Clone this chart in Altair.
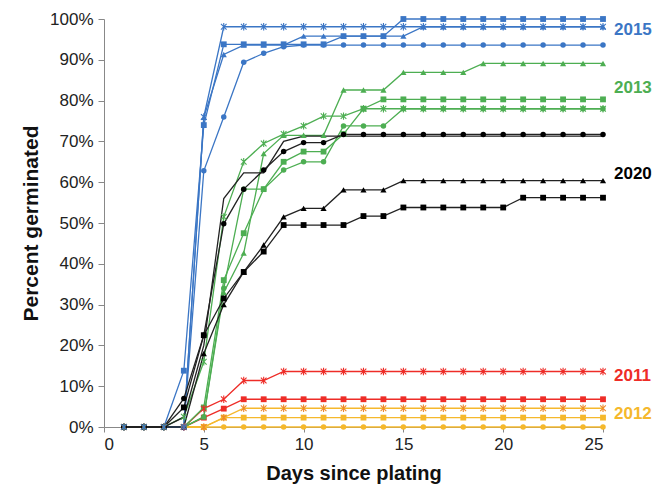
import altair as alt
import pandas as pd

days = list(range(1, 26))

# 2015 (blue)
b_cross  = [0, 0, 0, 0, 76.0] + [98.1] * 20
b_square = [0, 0, 0, 13.8, 74.0, 93.8, 93.8, 93.8, 93.8, 93.8, 93.8, 95.8, 95.8, 95.8] + [100.0] * 11
b_tri    = [0, 0, 0, 0, 75.9, 91.3, 93.6, 93.6, 93.6, 95.8, 95.8, 95.8, 95.8, 95.8, 95.8] + [98.1] * 10
b_circle = [0, 0, 0, 0, 62.8, 76.0, 89.4, 91.6, 93.2] + [93.6] * 16

# 2013 (green)
g_tri    = [0, 0, 0, 0, 2.5, 33.0, 42.6, 67.0, 71.5, 71.5, 71.5, 82.6, 82.6, 82.6,
            86.9, 86.9, 86.9, 86.9] + [89.1] * 7
g_cross  = [0, 0, 0, 2.5, 16.0, 51.5, 65.0, 69.5, 71.8, 73.8, 76.2, 76.2] + [78.0] * 13
g_square = [0, 0, 0, 0, 4.8, 36.0, 47.5, 58.3, 65.0, 67.5, 67.5, 71.8, 78.0] + [80.3] * 12
g_circle = [0, 0, 0, 0, 2.5, 34.0, 58.3, 58.3, 63.0, 65.0, 65.0, 73.8, 73.8, 73.8] + [78.0] * 11

# 2020 (black)
k_circle = [0, 0, 0, 7.0, 22.5, 49.8, 58.3, 63.0, 67.5, 69.7, 69.7] + [71.7] * 14
k_plain  = [0, 0, 0, 2.4, 20.0, 56.0, 62.3, 62.3, 70.0] + [71.3] * 16
k_tri    = [0, 0, 0, 0, 18.0, 30.0, 38.0, 44.6, 51.5, 53.6, 53.6, 58.1, 58.1, 58.1] + [60.4] * 11
k_square = [0, 0, 0, 4.8, 22.5, 31.5, 38.0, 43.0, 49.5, 49.5, 49.5, 49.5, 51.7, 51.7,
            53.8, 53.8, 53.8, 53.8, 53.8, 53.8] + [56.2] * 5

# 2011 (red)
r_cross  = [0, 0, 0, 0, 4.5, 6.8, 11.4, 11.4] + [13.6] * 17
r_square = [0, 0, 0, 0, 2.3, 4.5] + [6.8] * 19

# 2012 (yellow)
y_cross  = [0, 0, 0, 0, 0, 2.3] + [4.6] * 19
y_square = [0, 0, 0, 0, 0] + [2.3] * 20
y_circle = [0] * 25

years = ["2015", "2013", "2020", "2011", "2012"]
year_colors = ["#3B76C5", "#4DAE52", "#000000", "#EE2C27", "#F5B82C"]
label_y = [97.3, 83.1, 62.0, 12.5, 3.2]

series = [
    ("y_circle", "2012", "circle", y_circle, "#F5B82C", "#F5B82C"),
    ("y_square", "2012", "square", y_square, "#F5B82C", "#F5B82C"),
    ("y_cross", "2012", "cross", y_cross, "#F5B82C", "#EE8A2A"),
    ("r_square", "2011", "square", r_square, "#EE2C27", "#EE2C27"),
    ("r_cross", "2011", "cross", r_cross, "#EE2C27", "#EE2C27"),
    ("g_circle", "2013", "circle", g_circle, "#4DAE52", "#4DAE52"),
    ("g_square", "2013", "square", g_square, "#4DAE52", "#4DAE52"),
    ("g_cross", "2013", "cross", g_cross, "#4DAE52", "#4DAE52"),
    ("g_tri", "2013", "triangle", g_tri, "#4DAE52", "#4DAE52"),
    ("b_circle", "2015", "circle", b_circle, "#3B76C5", "#3B76C5"),
    ("b_tri", "2015", "triangle", b_tri, "#3B76C5", "#3B76C5"),
    ("b_square", "2015", "square", b_square, "#3B76C5", "#3B76C5"),
    ("b_cross", "2015", "cross", b_cross, "#3B76C5", "#3B76C5"),
    ("k_plain", "2020", "none", k_plain, "#222222", "#000000"),
    ("k_circle", "2020", "circle", k_circle, "#222222", "#000000"),
    ("k_square", "2020", "square", k_square, "#222222", "#000000"),
    ("k_tri", "2020", "triangle", k_tri, "#222222", "#000000"),
]

rows = []
for order, (sid, year, shape, vals, lc, mc) in enumerate(series):
    for d, v in zip(days, vals):
        rows.append({"day": d, "pct": v, "series": sid, "year": year,
                     "shape": shape, "order": order})
df = pd.DataFrame(rows)

ids = [s[0] for s in series]
line_cols = [s[4] for s in series]
mark_cols = [s[5] for s in series]

FONT = "Liberation Sans"

x_enc = alt.X("day:Q", scale=alt.Scale(domain=[0, 25], nice=False),
              axis=alt.Axis(title="Days since plating", values=[0, 5, 10, 15, 20, 25],
                            grid=False, domainColor="#888888", tickColor="#888888",
                            tickSize=5, labelFontSize=17, labelColor="#222222",
                            labelPadding=4, titleFontSize=20, titleFontWeight="bold",
                            titlePadding=11, titleColor="#111111",
                            labelFont=FONT, titleFont=FONT))
y_enc = alt.Y("pct:Q", scale=alt.Scale(domain=[0, 100], nice=False),
              axis=alt.Axis(title="Percent germinated", values=list(range(0, 101, 10)),
                            labelExpr="datum.value + '%'", grid=False,
                            domainColor="#888888", tickColor="#888888", tickSize=6,
                            labelFontSize=17, labelColor="#222222", labelPadding=5,
                            titleFontSize=21, titleFontWeight="bold", titlePadding=8,
                            titleColor="#111111",
                            labelFont=FONT, titleFont=FONT))

base = alt.Chart(df)

lines = base.mark_line(strokeWidth=1.3).encode(
    x=x_enc, y=y_enc,
    color=alt.Color("series:N", scale=alt.Scale(domain=ids, range=line_cols), legend=None),
    detail="series:N",
    order=alt.Order("day:Q"),
)

shape_scale = alt.Scale(domain=["circle", "square", "triangle"],
                        range=["circle", "square", "triangle-up"])
size_scale = alt.Scale(domain=["circle", "square", "triangle"], range=[30, 38, 42])

filled_pts = base.transform_filter(
    alt.FieldOneOfPredicate(field="shape", oneOf=["circle", "square", "triangle"])
).mark_point(filled=True, opacity=1).encode(
    x="day:Q", y="pct:Q",
    shape=alt.Shape("shape:N", scale=shape_scale, legend=None),
    size=alt.Size("shape:N", scale=size_scale, legend=None),
    color=alt.Color("series:N", scale=alt.Scale(domain=ids, range=mark_cols), legend=None),
)

cross_pts = base.transform_filter(alt.datum.shape == "cross").mark_point(
    filled=False, opacity=1, size=32, strokeWidth=1.1,
    shape="M-1,-1L1,1M-1,1L1,-1M0,-1.3L0,1.3",
).encode(
    x="day:Q", y="pct:Q",
    color=alt.Color("series:N", scale=alt.Scale(domain=ids, range=mark_cols), legend=None),
)

lab_df = pd.DataFrame({"year": years, "y": label_y, "x": [25] * len(years)})
labels = alt.Chart(lab_df).mark_text(
    align="left", baseline="middle", dx=11, fontSize=17, fontWeight="bold",
    font=FONT,
).encode(
    x="x:Q", y="y:Q", text="year:N",
    color=alt.Color("year:N", scale=alt.Scale(domain=years, range=year_colors), legend=None),
)

chart = alt.layer(lines, filled_pts, cross_pts, labels).resolve_scale(
    color="independent", size="independent", shape="independent"
).properties(
    width=499, height=408,
    autosize=alt.AutoSizeParams(type="none"),
    padding={"left": 96, "top": 11, "right": 60, "bottom": 61},
).configure_view(stroke=None)

chart.save("out.html", embed_options={"renderer": "svg", "actions": False})
